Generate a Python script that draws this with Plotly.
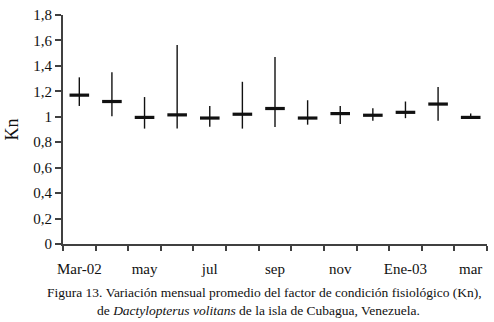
import plotly.graph_objects as go

months = ["Mar-02", "abr", "may", "jun", "jul", "ago", "sep", "oct", "nov", "dic", "Ene-03", "feb", "mar"]
kn_mean = [1.17, 1.12, 0.995, 1.015, 0.99, 1.02, 1.065, 0.99, 1.025, 1.012, 1.035, 1.10, 0.995]
kn_max = [1.31, 1.35, 1.155, 1.565, 1.085, 1.275, 1.47, 1.13, 1.085, 1.067, 1.12, 1.235, 1.026]
kn_min = [1.085, 1.005, 0.907, 0.907, 0.922, 0.907, 0.92, 0.938, 0.943, 0.969, 0.989, 0.969, 0.99]
x_labels = ["Mar-02", "may", "jul", "sep", "nov", "Ene-03", "mar"]
y_ticks = [0, 0.2, 0.4, 0.6, 0.8, 1.0, 1.2, 1.4, 1.6, 1.8]

xs = list(range(len(months)))
err_plus = [mx - m for mx, m in zip(kn_max, kn_mean)]
err_minus = [m - mn for mn, m in zip(kn_min, kn_mean)]

FONT = "Liberation Serif, Times New Roman, DejaVu Serif, serif"
AXC = "#404040"

fig = go.Figure()
fig.add_trace(go.Scatter(
    x=xs, y=kn_mean, mode="markers",
    marker=dict(symbol="line-ew", size=14, line=dict(width=3.2, color="#111111")),
    error_y=dict(type="data", symmetric=False, array=err_plus, arrayminus=err_minus,
                 width=0, thickness=1.4, color="#111111"),
    showlegend=False, hoverinfo="skip",
))
fig.add_trace(go.Scatter(x=xs, y=kn_mean, xaxis="x2", mode="markers",
                         marker=dict(opacity=0), showlegend=False, hoverinfo="skip"))

n = len(months)
fig.update_layout(
    width=494, height=322,
    margin=dict(l=63, r=7, t=12, b=78),
    paper_bgcolor="white", plot_bgcolor="white",
    separators=",.",
    font=dict(family=FONT, size=15, color="#111111"),
    xaxis=dict(range=[-0.5, n - 0.5], tickmode="array",
               tickvals=[i - 0.5 for i in range(n + 1)], ticktext=[""] * (n + 1),
               ticks="outside", ticklen=5, tickwidth=1.5, tickcolor=AXC,
               showline=True, linecolor=AXC, linewidth=1.8,
               showgrid=False, zeroline=False),
    xaxis2=dict(range=[-0.5, n - 0.5], overlaying="x", side="bottom",
                tickmode="array", tickvals=[months.index(l) for l in x_labels],
                ticktext=x_labels, ticks="outside", ticklen=11, tickcolor="rgba(0,0,0,0)",
                showline=False, showgrid=False,
                zeroline=False, tickfont=dict(family=FONT, size=15, color="#111111")),
    yaxis=dict(range=[0, 1.8], tickmode="array", tickvals=y_ticks,
               ticks="outside", ticklen=6, tickwidth=1.5, tickcolor=AXC,
               showline=True, linecolor=AXC, linewidth=1.8,
               showgrid=False, zeroline=False,
               tickfont=dict(family=FONT, size=15, color="#111111"),
               title=dict(text="Kn", font=dict(family=FONT, size=18), standoff=10)),
)

fig.add_annotation(
    text="Figura 13. Variación mensual promedio del factor de condición fisiológico (Kn),",
    xref="paper", yref="paper", x=(264 - 63) / 424, y=-(293 - 244) / 232,
    showarrow=False, xanchor="center", yanchor="middle",
    font=dict(family=FONT, size=13.5, color="#111111"))
fig.add_annotation(
    text="de <i>Dactylopterus volitans</i> de la isla de Cubagua, Venezuela.",
    xref="paper", yref="paper", x=(258 - 63) / 424, y=-(311 - 244) / 232,
    showarrow=False, xanchor="center", yanchor="middle",
    font=dict(family=FONT, size=13.5, color="#111111"))

fig.write_html("out.html", config={"displayModeBar": False},
               post_script="document.body.style.margin='0';document.body.style.overflow='hidden';")
